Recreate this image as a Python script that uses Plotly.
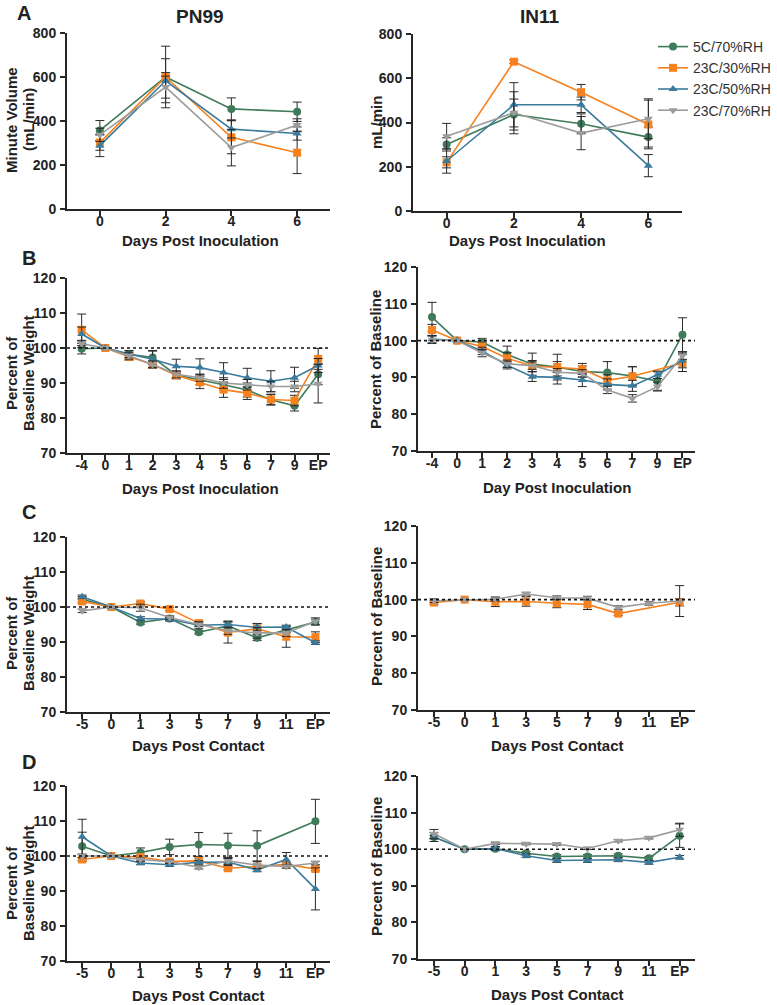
import plotly.graph_objects as go

W, H = 777, 1005
OFF = 0  # page body margin is removed by the post script below
FW, FH = W - OFF, H - OFF

series_names = ["5C/70%RH", "23C/30%RH", "23C/50%RH", "23C/70%RH"]
colors = ["#3f7a5b", "#f5821f", "#3a7b9d", "#9c9c9c"]
symbols = ["circle", "square", "triangle-up", "triangle-down"]

# ---- Panel A: minute volume ----
days_A = [0, 2, 4, 6]
A_pn99 = [[357, 600, 455, 442], [302, 600, 326, 256], [288, 583, 363, 343], [337, 554, 279, 382]]
A_pn99_err = [[45, 20, 50, 44], [35, 140, 75, 95], [50, 100, 40, 30], [30, 50, 83, 28]]
A_in11 = [[301, 436, 394, 334], [220, 675, 537, 391], [226, 480, 480, 205], [338, 444, 352, 417]]
A_in11_err = [[30, 70, 45, 45], [25, 8, 35, 110], [55, 100, 35, 50], [58, 95, 75, 90]]

# ---- Panel B: inoculated weight ----
cats_B = ["-4", "0", "1", "2", "3", "4", "5", "6", "7", "9", "EP"]
B_pn99 = [
    [99.8, 100, 98.2, 97.3, 92.3, 91.0, 89.5, 88.0, 85.2, 83.5, 92.5],
    [105.2, 100, 97.5, 95.3, 92.2, 90.2, 88.1, 87.1, 85.3, 85.0, 96.9],
    [104.0, 100, 98.3, 96.8, 94.8, 94.4, 93.0, 91.5, 90.5, 91.5, 95.0],
    [101.2, 100, 97.8, 95.3, 92.5, 91.5, 90.0, 89.5, 89.0, 89.0, 89.8],
]
B_pn99_err = [
    [1.5, 0, 1, 2, 1, 1.5, 1.5, 2, 1.5, 1.5, 3],
    [4.5, 0, 1, 1, 1, 1.8, 2.2, 1.8, 1.5, 1.5, 3],
    [2, 0, 1, 2.3, 2, 2.5, 2.8, 2.7, 3, 3, 2],
    [1, 0, 1, 1, 1, 1, 1.5, 1.5, 1.5, 1.5, 5.5],
]
B_in11 = [
    [106.4, 100, 99.6, 96.2, 93.6, 92.8, 91.6, 91.3, 90.4, 89.0, 101.6],
    [102.9, 100, 98.4, 95.2, 93.1, 92.8, 92.3, 89.2, 90.3, None, 93.9],
    [100.4, 100, 97.2, 93.3, 90.2, 90.0, 89.3, 88.1, 87.7, 90.7, 94.6],
    [100.2, 100, 96.6, 93.7, 93.2, 91.4, 91.1, 86.6, 84.3, 87.5, 95.9],
]
B_in11_err = [
    [4, 0, 1, 2.3, 3, 3.5, 1.5, 3, 2.5, 2.5, 4.6],
    [1.5, 0, 1, 1.5, 1.5, 1.5, 1.5, 1.5, 2.6, 0, 2.3],
    [1, 0, 1, 1, 1.3, 1.8, 1.8, 1.5, 1.5, 1, 2],
    [1, 0, 1, 1, 1, 1, 1, 1, 1, 1.2, 1],
]

# ---- Panels C and D: contact weight ----
cats_CD = ["-5", "0", "1", "3", "5", "7", "9", "11", "EP"]
C_pn99 = [
    [102.2, 100, 95.6, 96.7, 92.8, 94.6, 91.2, 93.5, 95.7],
    [101.6, 100, 101.0, 99.4, 95.4, 92.7, 93.8, 91.5, 91.4],
    [102.9, 100, 96.7, 96.5, 94.8, 95.0, 94.2, 94.3, 89.8],
    [98.9, 100, 99.8, 97.0, 95.0, 93.2, 92.6, 92.6, 95.9],
]
C_pn99_err = [
    [0.8, 0, 0.5, 0.5, 0.5, 1.2, 0.8, 0.8, 0.8],
    [0.5, 0, 0.5, 0.5, 0.5, 3, 1.5, 3, 1.5],
    [0.5, 0, 0.5, 0.5, 1, 1, 1, 0.5, 0.5],
    [0.5, 0, 1, 0.5, 0.5, 1, 1.5, 1, 1],
]
C_in11 = [
    None,
    [99.2, 100, 99.4, 99.5, 99.0, 98.7, 96.2, None, 99.3],
    None,
    [99.7, 100, 100.1, 101.5, 100.5, 100.4, 97.9, 99.0, 99.6],
]
C_in11_err = [
    None,
    [0.5, 0, 1.3, 1.3, 1.2, 1.4, 0.5, 0, 1],
    None,
    [0.5, 0, 0.5, 0.5, 0.5, 0.5, 0.5, 0.5, 4.2],
]
D_pn99 = [
    [102.8, 100, 101.0, 102.6, 103.3, 103.0, 102.9, None, 109.9],
    [99.0, 100, 99.7, 98.4, 98.6, 96.5, 97.0, 97.6, 96.3],
    [105.5, 100, 98.0, 97.5, 98.2, 98.3, 96.0, 99.0, 90.6],
    [100.0, 100, 99.0, 98.4, 96.8, 98.6, 97.4, 97.0, 98.0],
]
D_pn99_err = [
    [4, 0, 1.3, 2.2, 3.4, 3.5, 4.3, 0, 6.3],
    [0.5, 0, 0.5, 0.5, 0.8, 0.5, 0.5, 0.5, 0.5],
    [5, 0, 0.5, 0.5, 0.5, 1, 0.5, 2, 6],
    [0.5, 0, 0.5, 0.5, 0.5, 1, 1, 0.5, 0.5],
]
D_in11 = [
    [103.3, 100, 100.1, 98.9, 98.0, 98.0, 98.2, 97.5, 103.7],
    None,
    [103.3, 100, 100.2, 98.2, 96.9, 96.9, 97.1, 96.4, 97.8],
    [104.2, 100, 101.6, 101.5, 101.4, 100.2, 102.3, 103.1, 105.3],
]
D_in11_err = [
    [1.2, 0, 0.5, 0.5, 0.5, 0.5, 0.5, 0.5, 3.2],
    None,
    [0.5, 0, 0.5, 0.5, 0.5, 0.5, 0.5, 0.5, 0.5],
    [1.2, 0, 0.3, 0.3, 0.3, 0.3, 0.3, 0.3, 1.8],
]

FONT = "Arial, Liberation Sans, sans-serif"
AXC = "#262626"

fig = go.Figure()


def px_x(a, b):
    return [(a - OFF) / FW, (b - OFF) / FW]


def px_y(top, bottom):
    return [1 - (bottom - OFF) / FH, 1 - (top - OFF) / FH]


panels = [
    (1, days_A, A_pn99, A_pn99_err, (67, 330), (33, 209), "linear", [-1, 7], [0, 800], 200),
    (2, days_A, A_in11, A_in11_err, (413, 682), (34, 211), "linear", [-1, 7], [0, 800], 200),
    (3, cats_B, B_pn99, B_pn99_err, (67, 330), (278, 453), "category", [-0.62, 10.5], [70, 120], 10),
    (4, cats_B, B_in11, B_in11_err, (418, 695), (267, 451), "category", [-0.56, 10.5], [70, 120], 10),
    (5, cats_CD, C_pn99, C_pn99_err, (67, 330), (537, 712), "category", [-0.52, 8.5], [70, 120], 10),
    (6, cats_CD, C_in11, C_in11_err, (418, 695), (526, 710), "category", [-0.52, 8.5], [70, 120], 10),
    (7, cats_CD, D_pn99, D_pn99_err, (67, 330), (786, 961), "category", [-0.52, 8.5], [70, 120], 10),
    (8, cats_CD, D_in11, D_in11_err, (418, 695), (776, 959), "category", [-0.52, 8.5], [70, 120], 10),
]

layout_axes = {}
for (i, xs, ys, errs, xd, yd, xtype, xr, yr, dt) in panels:
    xa = "x" if i == 1 else f"x{i}"
    ya = "y" if i == 1 else f"y{i}"
    for s in range(4):
        if ys[s] is None:
            continue
        fig.add_trace(go.Scatter(
            x=xs, y=ys[s], xaxis=xa, yaxis=ya,
            mode="lines+markers", name=series_names[s],
            legendgroup=series_names[s], showlegend=(i == 2),
            connectgaps=True,
            line=dict(color=colors[s], width=1.6),
            marker=dict(color=colors[s], symbol=symbols[s], size=8),
            error_y=dict(type="data", array=[e if e else 0 for e in errs[s]],
                         color="#2a2a2a", thickness=1, width=4.5),
        ))
    axis_common = dict(
        showline=True, linecolor=AXC, linewidth=2, ticks="outside", ticklen=5,
        tickwidth=1.5, tickcolor=AXC, showgrid=False, zeroline=False, automargin=False,
        tickfont=dict(family=FONT, size=14, color="#222", weight="bold"),
    )
    xkey = "xaxis" if i == 1 else f"xaxis{i}"
    ykey = "yaxis" if i == 1 else f"yaxis{i}"
    xaxis = dict(axis_common, domain=px_x(*xd), anchor=ya, range=xr, type=xtype,
                 ticklabelstandoff=-7)
    if xtype == "linear":
        xaxis.update(tickvals=days_A)
    else:
        xaxis.update(categoryorder="array", categoryarray=xs)
    yaxis = dict(axis_common, domain=px_y(*yd), anchor=xa, range=yr, dtick=dt, tick0=0,
                 ticklabelstandoff=1)
    layout_axes[xkey] = xaxis
    layout_axes[ykey] = yaxis
    if i >= 3:
        fig.add_shape(type="line", xref=f"{xa} domain", yref=ya, x0=0, x1=1, y0=100, y1=100,
                      line=dict(color="#111", width=1.6, dash="dot"))

fig.update_layout(**layout_axes)

ann = []


def text(x, y, t, size=14, bold=True, angle=0, xanchor="center"):
    ann.append(dict(x=(x - OFF) / FW, y=1 - (y - OFF) / FH, xref="paper", yref="paper", text=t,
                    showarrow=False, textangle=angle, xanchor=xanchor, yanchor="middle",
                    font=dict(family=FONT, size=size, color="#222", weight="bold" if bold else "normal")))


text(24, 13, "A", 20)
text(29, 258, "B", 20)
text(29, 512, "C", 20)
text(29, 762, "D", 20)
text(200, 17, "PN99", 19)
text(540, 17, "IN11", 19)

text(200, 240, "Days Post Inoculation", 15)
text(527, 240, "Days Post Inoculation", 15)
text(200, 488, "Days Post Inoculation", 15)
text(557, 487, "Day Post Inoculation", 15)
text(198, 745, "Days Post Contact", 15)
text(557, 745, "Days Post Contact", 15)
text(198, 995, "Days Post Contact", 15)
text(557, 994, "Days Post Contact", 15)

# left-column two-line y titles, each line placed on its own
text(11, 120, "Minute Volume", 15, angle=-90)
text(28, 120, "(mL/min)", 15, angle=-90)
text(376, 123, "mL/min", 15, angle=-90)
for yc in (373, 633, 883):
    text(11, yc, "Percent of", 15, angle=-90)
    text(28, yc, "Baseline Weight", 15, angle=-90)
text(376, 360, "Percent of Baseline", 15, angle=-90)
text(376, 617, "Percent of Baseline", 15, angle=-90)
text(376, 867, "Percent of Baseline", 15, angle=-90)

fig.update_layout(
    annotations=ann,
    width=FW, height=FH,
    margin=dict(l=0, r=0, t=0, b=0, autoexpand=False),
    paper_bgcolor="white", plot_bgcolor="white",
    showlegend=True,
    legend=dict(x=(653 - OFF) / FW, y=1 - (31 - OFF) / FH, xanchor="left", yanchor="top",
                font=dict(family=FONT, size=14, color="#333"),
                traceorder="grouped", tracegroupgap=0,
                bgcolor="rgba(0,0,0,0)", itemwidth=30),
)

fig.write_html("out.html",
               config={"displayModeBar": False},
               post_script="document.body.style.margin='0';document.body.style.overflow='hidden';")
